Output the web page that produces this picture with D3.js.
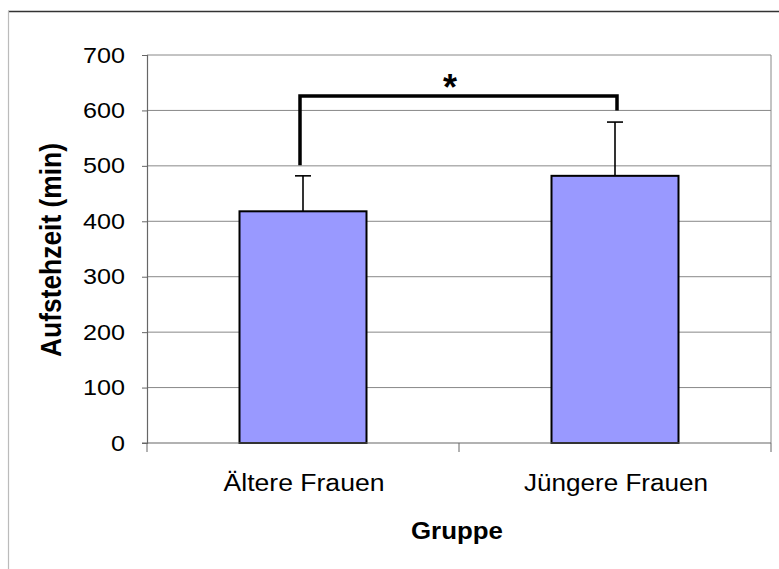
<!DOCTYPE html>
<html><head><meta charset="utf-8">
<script src="https://cdn.jsdelivr.net/npm/d3@7"></script>
<style>body{margin:0;background:#fff}svg{display:block}text{font-family:"Liberation Sans",Arial,sans-serif}</style>
</head><body><svg id="c" width="779" height="569"></svg>
<script>
const categories = ["Ältere Frauen", "Jüngere Frauen"];
const values = [418, 482];
const errors = [64, 97];
const yTicks = [0, 100, 200, 300, 400, 500, 600, 700];
const sigBracket = {from: 0, to: 1, level: 626, leftEnd: 501, rightEnd: 600, label: "*"};

const svg = d3.select("#c");
const L = 147, R = 771, T = 55, B = 443;
const x = d3.scaleBand().domain(categories).range([L, R]).paddingInner(0).paddingOuter(0);
const y = d3.scaleLinear().domain([0, 700]).range([B, T]);

// outer frame
svg.append("line").attr("x1", 8).attr("x2", 779).attr("y1", 11.5).attr("y2", 11.5).attr("stroke", "#333").attr("stroke-width", 1.3);
svg.append("line").attr("x1", 8.5).attr("x2", 8.5).attr("y1", 11).attr("y2", 569).attr("stroke", "#bbb").attr("stroke-width", 1.2);

// gridlines
svg.append("g").selectAll("line").data(yTicks.slice(1)).join("line")
  .attr("x1", L).attr("x2", R).attr("y1", d => y(d)).attr("y2", d => y(d))
  .attr("stroke", "#888").attr("stroke-width", 1);
svg.append("line").attr("x1", R).attr("x2", R).attr("y1", T).attr("y2", B).attr("stroke", "#888");

// bars
const bw = 127;
svg.append("g").selectAll("rect").data(values).join("rect")
  .attr("x", (d, i) => x(categories[i]) + x.bandwidth() / 2 - bw / 2)
  .attr("y", d => y(d)).attr("width", bw).attr("height", d => B - y(d))
  .attr("fill", "#9999ff").attr("stroke", "#000").attr("stroke-width", 2);

// error bars
const eg = svg.append("g").attr("stroke", "#000").attr("stroke-width", 1.6);
values.forEach((v, i) => {
  const cx = x(categories[i]) + x.bandwidth() / 2;
  eg.append("line").attr("x1", cx).attr("x2", cx).attr("y1", y(v)).attr("y2", y(v + errors[i]));
  eg.append("line").attr("x1", cx - 8).attr("x2", cx + 8).attr("y1", y(v + errors[i])).attr("y2", y(v + errors[i]));
});

// y axis
const yAxis = d3.axisLeft(y).tickValues(yTicks).tickSize(5).tickPadding(17);
const ya = svg.append("g").attr("transform", `translate(${L},0)`).call(yAxis);
ya.attr("font-size", null).attr("font-family", null);
ya.select(".domain").attr("stroke", "#666").attr("stroke-width", 1.2);
ya.selectAll(".tick line").attr("stroke", "#666");
ya.selectAll("text").attr("font-size", 22).attr("fill", "#000")
  .attr("textLength", d => String(d).length * 14).attr("lengthAdjust", "spacingAndGlyphs");

// x axis
svg.append("line").attr("x1", L - 5).attr("x2", R).attr("y1", B).attr("y2", B).attr("stroke", "#666").attr("stroke-width", 1.2);
const xt = [L, L + x.bandwidth(), R];
svg.append("g").selectAll("line").data(xt).join("line")
  .attr("x1", d => d).attr("x2", d => d).attr("y1", B).attr("y2", B + 9).attr("stroke", "#666");

const catWidths = [161, 184];
svg.append("g").selectAll("text").data(categories).join("text")
  .attr("x", d => x(d) + x.bandwidth() / 2 + 1).attr("y", 491)
  .attr("text-anchor", "middle").attr("font-size", 23.5)
  .attr("textLength", (d, i) => catWidths[i]).attr("lengthAdjust", "spacingAndGlyphs").text(d => d);

svg.append("text").attr("x", 457).attr("y", 539).attr("text-anchor", "middle")
  .attr("font-size", 24.5).attr("font-weight", "bold")
  .attr("textLength", 92).attr("lengthAdjust", "spacingAndGlyphs").text("Gruppe");
svg.append("text").attr("transform", `translate(61,250) rotate(-90) scale(1,1.12)`)
  .attr("text-anchor", "middle").attr("font-size", 26).attr("font-weight", "bold")
  .attr("textLength", 214).attr("lengthAdjust", "spacingAndGlyphs").text("Aufstehzeit (min)");

// significance bracket
const bx1 = x(categories[sigBracket.from]) + x.bandwidth() / 2 - 3;
const bx2 = x(categories[sigBracket.to]) + x.bandwidth() / 2 + 2;
svg.append("path")
  .attr("d", `M${bx1},${y(sigBracket.leftEnd)}V${y(sigBracket.level)}H${bx2}V${y(sigBracket.rightEnd)}`)
  .attr("fill", "none").attr("stroke", "#000").attr("stroke-width", 3.5);
svg.append("text").attr("x", 450).attr("y", 100).attr("text-anchor", "middle")
  .attr("font-size", 36).attr("font-weight", "bold").text(sigBracket.label);
</script></body></html>
